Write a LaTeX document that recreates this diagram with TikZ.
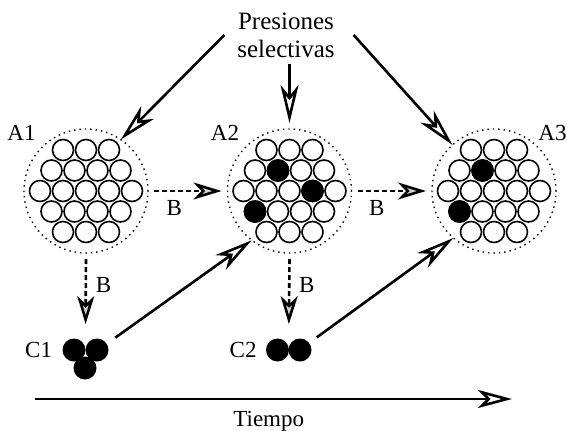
\documentclass[tikz,border=0pt]{standalone}
\usepackage{fontspec}
\setmainfont{Liberation Serif}
\usetikzlibrary{arrows.meta, positioning, calc}

% celdas de una colonia (3-4-5-4-3)
\newcommand{\celdas}[1]{%
    \foreach \n/\dy in {3/41,4/20.5,5/0,4/-20.5,3/-41}
        \foreach \k in {1,...,\n}
            \draw[celda] ($(#1)+({(\k-(\n+1)/2)*23},\dy)$) circle[radius=5.25pt];
}

\begin{document}
\begin{tikzpicture}[
    x=0.5pt, y=0.5pt,
    font=\fontsize{11.5}{13}\selectfont,
    colonia/.style={
        draw,
        circle,
        dotted,
        line width=0.7pt,
        minimum size=62pt,
        inner sep=0pt,
        outer sep=3pt
    },
    celda/.style={draw, line width=0.8pt, fill=white},
    clon/.style={circle, fill=black, minimum size=11.5pt, inner sep=0pt},
    presion/.style={-{Stealth[open, length=19pt, width=9pt, inset=5.5pt]}, line width=1.3pt, shorten >=-3pt},
    migra/.style={-{Stealth[open, fill=gray!35, length=14pt, width=8.5pt, inset=4pt]}, line width=1.3pt, dash pattern=on 2.5pt off 1.5pt},
    tiempo/.style={-{Stealth[open, length=17pt, width=9pt, inset=4.5pt]}, line width=1.3pt}
]
\useasboundingbox (0,0) rectangle (567,430);

\node[font=\fontsize{12.5}{14}\selectfont, align=center] (pres) at (286,395) {Presiones\\selectivas};

% poblaciones
\node[colonia] (A1) at (86,239) {};
\node[colonia] (A2) at (289.5,239) {};
\node[colonia] (A3) at (494,239) {};
\celdas{A1}
\celdas{A2}
\celdas{A3}

% mutantes
\draw[celda, fill=black] ($(A2)+(-11.5,20.5)$) circle[radius=5.25pt];
\draw[celda, fill=black] ($(A2)+(23,0)$) circle[radius=5.25pt];
\draw[celda, fill=black] ($(A2)+(-34.5,-20.5)$) circle[radius=5.25pt];
\draw[celda, fill=black] ($(A3)+(-11.5,20.5)$) circle[radius=5.25pt];
\draw[celda, fill=black] ($(A3)+(-34.5,-20.5)$) circle[radius=5.25pt];

\node[anchor=south east, inner sep=1pt] (lA1) at (A1.135) {A1};
\node[anchor=south east, inner sep=1pt] (lA2) at (A2.135) {A2};
\node[anchor=south west, inner sep=0pt] (lA3) at ([xshift=-2pt, yshift=1pt]A3.45) {A3};

% clones
\node[clon] (c1a) at (74,80) {};
\node[clon] (c1b) at (97,80) {};
\node[clon] (c1c) at (85,62) {};
\node[left=1.5pt of c1a] (lC1) {C1};

\node[clon] (c2a) at (277.5,80) {};
\node[clon] (c2b) at (300,80) {};
\node[left=1pt of c2a] (lC2) {C2};

% presiones selectivas
\draw[presion] ([xshift=-3pt]pres.west) -- (A1.55);
\draw[presion, shorten >=0pt] (pres.south -| A2.north) -- (A2.north);
\draw[presion] ([xshift=6pt]pres.east) -- (A3.132);

% migraciones
\draw[migra] (A1.east) -- (A2.west) node[pos=0.3, below=3pt, inner sep=1pt] {B};
\draw[migra] (A2.east) -- (A3.west) node[pos=0.28, below=3pt, inner sep=1pt] {B};
\draw[migra, shorten >=7pt] (A1.south) -- ($(c1a.north)!0.5!(c1b.north)$) node[pos=0.33, right=1pt] {B};
\draw[migra, shorten >=7pt] (A2.south) -- ($(c2a.north)!0.5!(c2b.north)$) node[pos=0.33, right=1pt] {B};

% recolonizacion
\draw[presion] ([shift={(34:11pt)}]c1b.center) -- (A2.231);
\draw[presion] ([shift={(37:10.5pt)}]c2b.center) -- (A3.228);

% eje temporal
\coordinate (t0) at (35,31);
\coordinate (t1) at (512,31);
\draw[tiempo] (t0) -- (t1) node[pos=0.49, below=2pt] {Tiempo};

\end{tikzpicture}
\end{document}
